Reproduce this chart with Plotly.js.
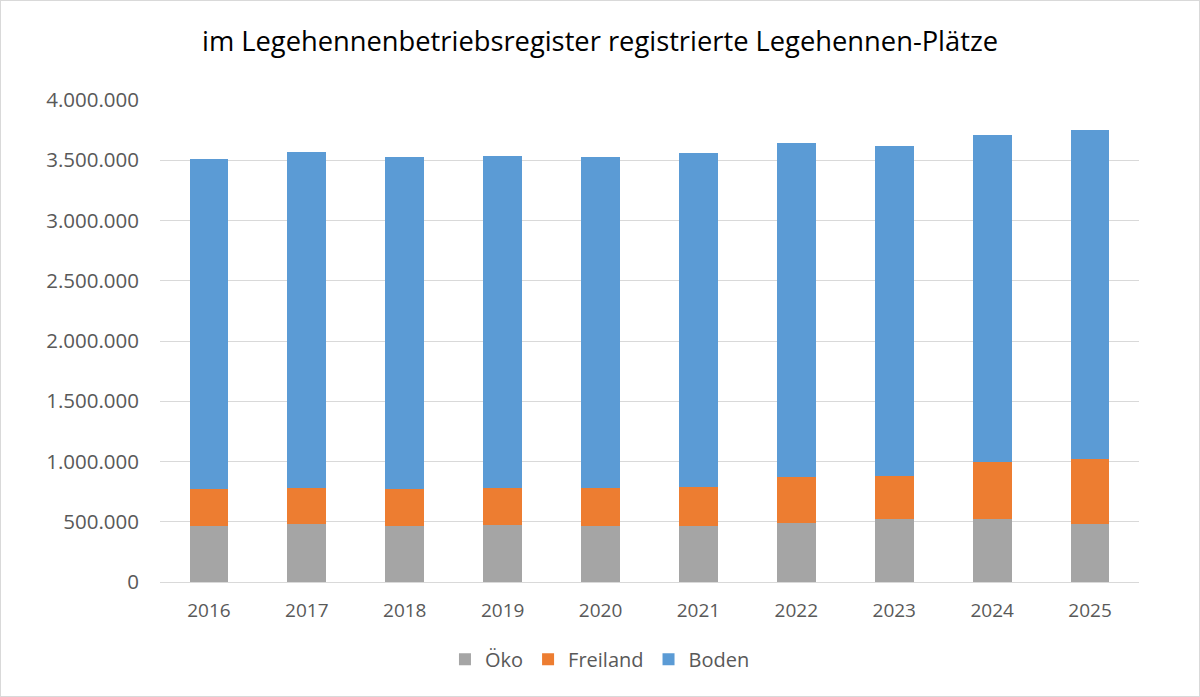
<!DOCTYPE html>
<html>
<head>
<meta charset="utf-8">
<script src="https://cdn.plot.ly/plotly-3.0.1.min.js"></script>
<style>
  html, body { margin: 0; padding: 0; background: #ffffff; }
  #wrap { position: relative; width: 1200px; height: 697px; }
  #chart { width: 1200px; height: 697px; }
  #frame { position: absolute; left: 0; top: 0; width: 1198px; height: 695px;
           border: 1px solid #d9d9d9; pointer-events: none; }
</style>
</head>
<body>
<div id="wrap">
  <div id="chart"></div>
  <div id="frame"></div>
</div>
<script>
// Registered laying-hen places per year, split by housing system
const years = ['2016', '2017', '2018', '2019', '2020', '2021', '2022', '2023', '2024', '2025'];
const oeko = [465000, 485000, 463000, 471000, 465000, 465000, 487000, 524000, 524000, 482000];
const freiland = [304000, 298000, 306000, 305000, 311000, 325000, 383000, 352000, 474000, 541000];
const boden = [2739000, 2782000, 2762000, 2759000, 2754000, 2770000, 2775000, 2740000, 2715000, 2725000];
const yTicks = [0, 500000, 1000000, 1500000, 2000000, 2500000, 3000000, 3500000, 4000000];

const fontFamily = '"Open Sans", "Noto Sans", sans-serif';
const textGray = '#595959';

function series(name, values, color) {
  return {
    type: 'bar',
    name: name,
    x: years,
    y: values,
    marker: { color: color, line: { width: 0 } },
    hoverinfo: 'x+y+name'
  };
}

const data = [
  series('Öko', oeko, '#A5A5A5'),
  series('Freiland', freiland, '#ED7D31'),
  series('Boden', boden, '#5B9BD5')
];

const layout = {
  width: 1200,
  height: 697,
  barmode: 'stack',
  bargap: 0.604,
  separators: ',.',
  paper_bgcolor: '#ffffff',
  plot_bgcolor: '#ffffff',
  margin: { l: 160, r: 61, t: 100, b: 114.5 },
  font: { family: fontFamily, color: textGray, size: 20 },
  title: {
    text: 'im Legehennenbetriebsregister registrierte Legehennen-Plätze',
    font: { family: fontFamily, size: 27.3, color: '#000000' },
    x: 0.5,
    xanchor: 'center',
    y: 0.94,
    yanchor: 'middle'
  },
  xaxis: {
    type: 'category',
    showgrid: false,
    showline: true,
    linecolor: '#d9d9d9',
    linewidth: 1,
    ticks: '',
    ticklabelstandoff: 11,
    tickfont: { family: fontFamily, size: 19, color: textGray },
    fixedrange: true
  },
  yaxis: {
    range: [0, 4000000],
    tickvals: yTicks,
    tickformat: ',d',
    showgrid: true,
    gridcolor: '#d9d9d9',
    gridwidth: 1,
    zeroline: false,
    showline: false,
    ticks: '',
    ticklabelstandoff: 20,
    tickfont: { family: fontFamily, size: 20.5, color: textGray },
    fixedrange: true
  },
  showlegend: true,
  legend: {
    orientation: 'h',
    x: 0.4494,
    xanchor: 'center',
    y: -0.12,
    yanchor: 'top',
    traceorder: 'normal',
    font: { family: fontFamily, size: 20, color: textGray },
    itemwidth: 30
  }
};

Plotly.newPlot('chart', data, layout, { displayModeBar: false, staticPlot: true });
</script>
</body>
</html>
